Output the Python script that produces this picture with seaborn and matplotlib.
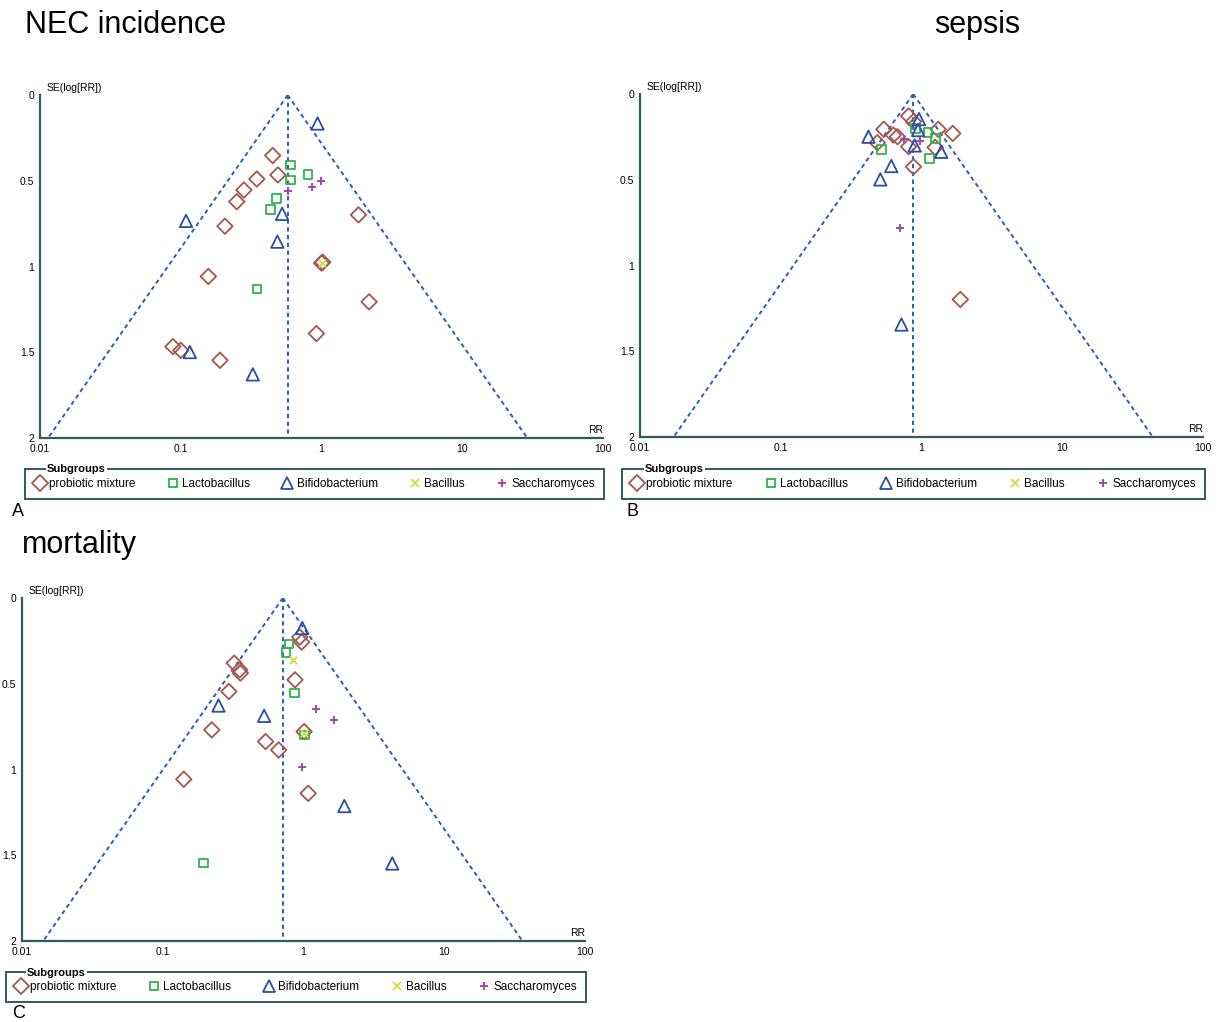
"""
Funnel plots of probiotic trials (NEC incidence, sepsis, mortality),
grouped by probiotic subgroup. Writes out.png.
"""
import numpy as np
import pandas as pd
import matplotlib
matplotlib.use("Agg")
import matplotlib.pyplot as plt
from matplotlib.lines import Line2D
import seaborn as sns

GROUPS = ["probiotic mixture", "Lactobacillus", "Bifidobacterium", "Bacillus", "Saccharomyces"]

# ── A: NEC incidence ────────────────────────────────────────────────────
NEC_POOLED = 0.575
NEC_MIX_RR = [0.45, 0.49, 0.347, 0.281, 0.25, 0.206, 1.83, 1.0, 1.02, 0.157, 2.18, 0.92, 0.088, 0.10, 0.19]
NEC_MIX_SE = [0.353, 0.466, 0.49, 0.554, 0.622, 0.765, 0.699, 0.98, 0.975, 1.058, 1.206, 1.391, 1.467, 1.489, 1.547]
NEC_LAC_RR = [0.60, 0.80, 0.60, 0.48, 0.435, 0.347]
NEC_LAC_SE = [0.408, 0.462, 0.496, 0.605, 0.669, 1.13]
NEC_BIF_RR = [0.937, 0.109, 0.525, 0.486, 0.116, 0.325]
NEC_BIF_SE = [0.166, 0.734, 0.693, 0.855, 1.499, 1.629]
NEC_BAC_RR = [1.0]
NEC_BAC_SE = [0.98]
NEC_SAC_RR = [0.58, 0.855, 0.99]
NEC_SAC_SE = [0.56, 0.537, 0.503]

# ── B: sepsis ───────────────────────────────────────────────────────────
SEP_POOLED = 0.873
SEP_MIX_RR = [0.81, 0.877, 0.54, 0.63, 0.675, 0.486, 0.81, 1.315, 1.667, 1.25, 0.877, 1.887]
SEP_MIX_SE = [0.128, 0.161, 0.206, 0.239, 0.249, 0.284, 0.307, 0.206, 0.23, 0.311, 0.424, 1.198]
SEP_LAC_RR = [0.52, 1.11, 1.26, 1.14, 0.905]
SEP_LAC_SE = [0.323, 0.226, 0.259, 0.377, 0.20]
SEP_BIF_RR = [0.96, 0.946, 0.42, 0.894, 1.38, 0.61, 0.51, 0.72]
SEP_BIF_SE = [0.146, 0.21, 0.249, 0.30, 0.337, 0.42, 0.498, 1.344]
SEP_BAC_RR = []
SEP_BAC_SE = []
SEP_SAC_RR = [0.70, 0.97, 0.75]
SEP_SAC_SE = [0.784, 0.274, 0.265]

# ── C: mortality ────────────────────────────────────────────────────────
MOR_POOLED = 0.713
MOR_MIX_RR = [0.94, 0.97, 0.322, 0.352, 0.356, 0.87, 0.295, 0.223, 0.538, 0.666, 1.01, 0.141, 1.08]
MOR_MIX_SE = [0.228, 0.257, 0.38, 0.419, 0.438, 0.477, 0.545, 0.769, 0.837, 0.886, 0.779, 1.057, 1.139]
MOR_LAC_RR = [0.789, 0.75, 0.866, 1.02, 0.194]
MOR_LAC_SE = [0.267, 0.317, 0.555, 0.798, 1.544]
MOR_BIF_RR = [0.98, 0.249, 0.525, 1.95, 4.27]
MOR_BIF_SE = [0.175, 0.627, 0.687, 1.213, 1.548]
MOR_BAC_RR = [0.84, 1.0]
MOR_BAC_SE = [0.36, 0.79]
MOR_SAC_RR = [1.23, 1.66, 0.98]
MOR_SAC_SE = [0.648, 0.711, 0.983]

X_TICKS = [0.01, 0.1, 1, 10, 100]
X_LABELS = ["0.01", "0.1", "1", "10", "100"]
Y_TICKS = [0, 0.5, 1, 1.5, 2]
Y_LABELS = ["0", "0.5", "1", "1.5", "2"]

# marker, colour, size, hollow
STYLE = {
    "probiotic mixture": ("D", "#a3574f", 62, True),
    "Lactobacillus":     ("s", "#2fb34a", 38, True),
    "Bifidobacterium":   ("^", "#2a4ea6", 80, True),
    "Bacillus":          ("x", "#d2dc3c", 28, False),
    "Saccharomyces":     ("+", "#a03cae", 32, False),
}
AXIS_COL = "#2f5c5c"
FUNNEL_COL = "#2f5cb0"


def make_frame(rr_lists, se_lists):
    rows = []
    for g, rr, se in zip(GROUPS, rr_lists, se_lists):
        rows += [{"group": g, "rr": r, "se": s} for r, s in zip(rr, se)]
    return pd.DataFrame(rows, columns=["group", "rr", "se"])


def funnel(ax, df, pooled):
    se = np.array([0.0, 2.0])
    kw = dict(color=FUNNEL_COL, lw=1.4, ls=(0, (2.2, 1.8)), zorder=1)
    ax.plot(pooled * np.exp(-1.96 * se), se, **kw)
    ax.plot(pooled * np.exp(1.96 * se), se, **kw)
    ax.plot([pooled, pooled], se, **kw)

    for g in GROUPS:
        sub = df[df.group == g]
        if sub.empty:
            continue
        m, c, s, hollow = STYLE[g]
        extra = dict(facecolor="none", edgecolor=c, linewidth=1.3) if hollow else dict(linewidth=1.3)
        sns.scatterplot(data=sub, x="rr", y="se", marker=m, s=s, color=c,
                        ax=ax, legend=False, zorder=3, **extra)

    ax.set_xscale("log")
    ax.set_xlim(0.01, 100)
    ax.set_ylim(2, 0)
    ax.set_xticks(X_TICKS, X_LABELS)
    ax.set_yticks(Y_TICKS, Y_LABELS)
    ax.xaxis.set_minor_locator(matplotlib.ticker.NullLocator())
    ax.set_xlabel("")
    ax.set_ylabel("")
    for side in ("top", "right"):
        ax.spines[side].set_visible(False)
    for side in ("left", "bottom"):
        ax.spines[side].set_color(AXIS_COL)
        ax.spines[side].set_linewidth(1.6)
    ax.tick_params(direction="inout", length=6, width=1.2, color=AXIS_COL,
                   labelsize=7.5, pad=1, labelcolor="black")
    ax.annotate("SE(log[RR])", xy=(0, 1), xycoords="axes fraction", xytext=(5, 5),
                textcoords="offset points", fontsize=7.5, va="center", ha="left")
    ax.annotate("RR", xy=(1, 0), xycoords="axes fraction", xytext=(0, 6),
                textcoords="offset points", fontsize=7.5, va="center", ha="right")


def subgroup_legend(fig, rect, title_xy):
    handles = []
    for g in GROUPS:
        m, c, s, hollow = STYLE[g]
        handles.append(Line2D([], [], ls="none", marker=m, markersize=np.sqrt(s),
                              markerfacecolor="none" if hollow else c,
                              markeredgecolor=c, markeredgewidth=1.3))
    leg = fig.legend(handles, GROUPS, loc="lower left", bbox_to_anchor=rect,
                     bbox_transform=fig.transFigure, mode="expand", ncol=5,
                     frameon=True, fancybox=False, fontsize=8.5, handlelength=1.0,
                     handletextpad=0.3, borderpad=0.75, borderaxespad=0, framealpha=1)
    leg.get_frame().set_edgecolor(AXIS_COL)
    leg.get_frame().set_linewidth(1.4)
    fig.text(*title_xy, "Subgroups", fontsize=8, weight="bold", va="center",
             ha="left", bbox=dict(fc="white", ec="none", pad=0.5), zorder=10)


def main():
    sns.set_style("white")
    plt.rcParams["font.family"] = ["Liberation Sans", "DejaVu Sans"]
    plt.rcParams["text.color"] = "black"

    W, H = 1219, 1022
    fig = plt.figure(figsize=(W / 100, H / 100), dpi=100)

    def px(x0, y0, x1, y1):
        return [x0 / W, 1 - y1 / H, (x1 - x0) / W, (y1 - y0) / H]

    ax_a = fig.add_axes(px(40, 95, 603, 438))
    ax_b = fig.add_axes(px(640, 94, 1203, 437))
    ax_c = fig.add_axes(px(22, 598, 585, 941))

    funnel(ax_a, make_frame([NEC_MIX_RR, NEC_LAC_RR, NEC_BIF_RR, NEC_BAC_RR, NEC_SAC_RR],
                            [NEC_MIX_SE, NEC_LAC_SE, NEC_BIF_SE, NEC_BAC_SE, NEC_SAC_SE]), NEC_POOLED)
    funnel(ax_b, make_frame([SEP_MIX_RR, SEP_LAC_RR, SEP_BIF_RR, SEP_BAC_RR, SEP_SAC_RR],
                            [SEP_MIX_SE, SEP_LAC_SE, SEP_BIF_SE, SEP_BAC_SE, SEP_SAC_SE]), SEP_POOLED)
    funnel(ax_c, make_frame([MOR_MIX_RR, MOR_LAC_RR, MOR_BIF_RR, MOR_BAC_RR, MOR_SAC_RR],
                            [MOR_MIX_SE, MOR_LAC_SE, MOR_BIF_SE, MOR_BAC_SE, MOR_SAC_SE]), MOR_POOLED)

    # titles and panel letters
    fig.text(25 / W, 1 - 25 / H, "NEC incidence", fontsize=22, va="center", ha="left")
    fig.text(977 / W, 1 - 25 / H, "sepsis", fontsize=22, va="center", ha="center")
    fig.text(22 / W, 1 - 545 / H, "mortality", fontsize=22, va="center", ha="left")
    fig.text(12 / W, 1 - 512 / H, "A", fontsize=13, va="center", ha="left")
    fig.text(627 / W, 1 - 512 / H, "B", fontsize=13, va="center", ha="left")
    fig.text(12 / W, 1 - 1013 / H, "C", fontsize=13, va="center", ha="left")

    # legends
    subgroup_legend(fig, px(25, 469, 604, 499), (47 / W, 1 - 469 / H))
    subgroup_legend(fig, px(622, 469, 1205, 499), (645 / W, 1 - 469 / H))
    subgroup_legend(fig, px(6, 973, 586, 1002), (27 / W, 1 - 973 / H))

    fig.savefig("out.png", dpi=100)


if __name__ == "__main__":
    main()
